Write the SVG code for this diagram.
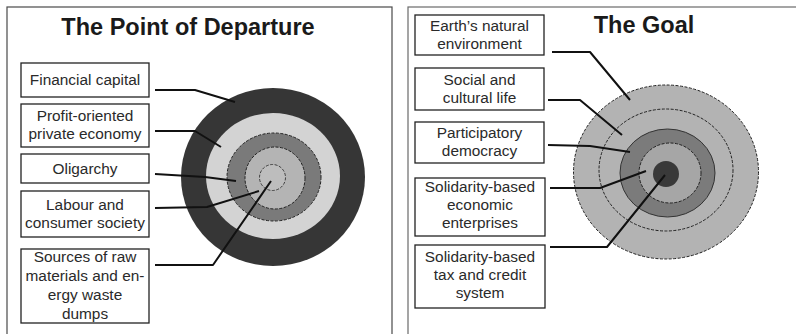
<svg xmlns="http://www.w3.org/2000/svg" width="796" height="334" viewBox="0 0 796 334">
  <style>
    .panel { fill: #ffffff; stroke: #4a4a4a; stroke-width: 1.2; }
    .box { fill: #ffffff; stroke: #222222; stroke-width: 1.3; }
    .lbl { font-family: "Liberation Sans", Arial, sans-serif; font-size: 15.4px; fill: #2a2a2a; text-anchor: middle; }
    .title { font-family: "Liberation Sans", Arial, sans-serif; font-size: 23.5px; font-weight: bold; fill: #1a1a1a; text-anchor: middle; }
    .lead { fill: none; stroke: #111111; stroke-width: 2; stroke-linejoin: round; }
    .dash { stroke: #222222; stroke-width: 1; stroke-dasharray: 3 1.5; }
  </style>

  <rect width="796" height="334" fill="#ffffff"/>

  <!-- two framed panels, open past the lower edge -->
  <rect class="panel" x="7" y="7" width="385" height="340"/>
  <rect class="panel" x="408" y="7" width="400" height="340" style="stroke:#6a6a6a"/>

  <text class="title" x="188" y="35">The Point of Departure</text>
  <text class="title" x="644" y="33">The Goal</text>

  <!-- concentric rings: starting point -->
  <g id="rings-departure">
    <ellipse cx="273" cy="177" rx="92" ry="89" fill="#363636"/>
    <ellipse cx="273" cy="176" rx="67" ry="63" fill="#d3d3d3"/>
    <ellipse cx="274" cy="177" rx="47" ry="44" fill="#7a7a7a" class="dash"/>
    <ellipse cx="275" cy="178" rx="30" ry="31" fill="#b4b4b4" class="dash"/>
    <circle cx="272.5" cy="177.5" r="13" fill="#bdbdbd" class="dash" style="stroke-width:0.8"/>
  </g>

  <!-- concentric rings: goal -->
  <g id="rings-goal">
    <ellipse cx="666" cy="172" rx="92.5" ry="87" fill="#b3b3b3" class="dash"/>
    <ellipse cx="666" cy="170" rx="67" ry="61" fill="none" class="dash"/>
    <ellipse cx="667.5" cy="173" rx="47.5" ry="44" fill="#7b7b7b" stroke="#333333" stroke-width="1"/>
    <ellipse cx="670" cy="173" rx="31" ry="30" fill="#a6a6a6" class="dash"/>
    <circle cx="666" cy="174" r="13" fill="#393939"/>
  </g>

  <!-- labels: starting point -->
  <g id="financial-capital">
    <rect class="box" x="21" y="63" width="128" height="34"/>
    <text class="lbl" x="85" y="85">Financial capital</text>
  </g>
  <g id="private-economy">
    <rect class="box" x="21" y="104" width="128" height="43"/>
    <text class="lbl" x="85" y="120.5">Profit-oriented</text>
    <text class="lbl" x="85" y="138.5">private economy</text>
  </g>
  <g id="oligarchy">
    <rect class="box" x="21" y="154" width="128" height="29"/>
    <text class="lbl" x="85" y="174">Oligarchy</text>
  </g>
  <g id="consumer-society">
    <rect class="box" x="21" y="191" width="128" height="46"/>
    <text class="lbl" x="85" y="210">Labour and</text>
    <text class="lbl" x="85" y="228">consumer society</text>
  </g>
  <g id="raw-materials">
    <rect class="box" x="21" y="249" width="128" height="74"/>
    <text class="lbl" x="85" y="262">Sources of raw</text>
    <text class="lbl" x="85" y="281">materials and en-</text>
    <text class="lbl" x="85" y="300">ergy waste</text>
    <text class="lbl" x="85" y="319">dumps</text>
  </g>

  <!-- labels: goal -->
  <g id="natural-environment">
    <rect class="box" x="415" y="15" width="129" height="40"/>
    <text class="lbl" x="479.5" y="30.5">Earth’s natural</text>
    <text class="lbl" x="479.5" y="48.5">environment</text>
  </g>
  <g id="cultural-life">
    <rect class="box" x="415" y="68" width="129" height="42"/>
    <text class="lbl" x="479.5" y="85">Social and</text>
    <text class="lbl" x="479.5" y="103">cultural life</text>
  </g>
  <g id="participatory-democracy">
    <rect class="box" x="415" y="122" width="129" height="41"/>
    <text class="lbl" x="479.5" y="137.5">Participatory</text>
    <text class="lbl" x="479.5" y="155.5">democracy</text>
  </g>
  <g id="economic-enterprises">
    <rect class="box" x="415" y="178" width="130" height="58"/>
    <text class="lbl" x="480" y="192">Solidarity-based</text>
    <text class="lbl" x="480" y="210">economic</text>
    <text class="lbl" x="480" y="228">enterprises</text>
  </g>
  <g id="tax-credit">
    <rect class="box" x="415" y="245" width="130" height="63"/>
    <text class="lbl" x="480" y="262">Solidarity-based</text>
    <text class="lbl" x="480" y="280">tax and credit</text>
    <text class="lbl" x="480" y="298">system</text>
  </g>

  <!-- leader lines from labels into the rings -->
  <g id="connectors">
    <polyline class="lead" points="155,90 195,90 235,102"/>
    <polyline class="lead" points="155,131 195,131 221,147"/>
    <polyline class="lead" points="155,174 205,177 236,181"/>
    <polyline class="lead" points="155,208 207,207 259,191"/>
    <polyline class="lead" points="155,265 213,265 271,181"/>

    <polyline class="lead" points="552,52 590,52 630,100"/>
    <polyline class="lead" points="548,100 580,100 622,135"/>
    <polyline class="lead" points="548,145 590,146 630,152"/>
    <polyline class="lead" points="550,188 600,188 646,171"/>
    <polyline class="lead" points="550,247 607,247 665,175"/>
  </g>
</svg>
